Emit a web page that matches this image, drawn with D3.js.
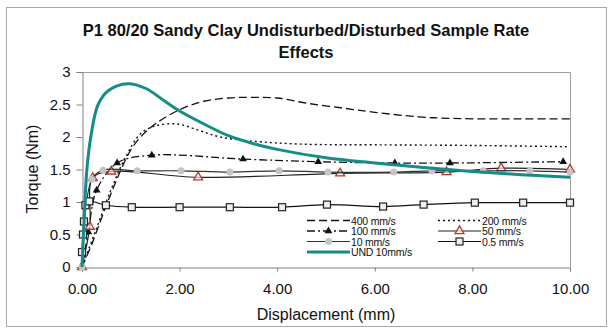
<!DOCTYPE html>
<html>
<head>
<meta charset="utf-8">
<script src="https://cdn.jsdelivr.net/npm/d3@7"></script>
<style>
  body { margin: 0; background: #fff; }
  text { font-family: Arial, "Liberation Sans", sans-serif; fill: #111; }
</style>
</head>
<body>
<svg id="chart" width="614" height="334"></svg>
<script>
// Chart text
const titleLines = ["P1 80/20 Sandy Clay Undisturbed/Disturbed Sample Rate", "Effects"];
const xLabel = "Displacement (mm)";
const yLabel = "Torque (Nm)";
const xTicks = [0, 2, 4, 6, 8, 10];
const yTicks = [0, 0.5, 1, 1.5, 2, 2.5, 3];

// Series: [displacement (mm), torque (Nm)]
const rate400 = [[0,0],[0.2,0.35],[0.5,0.95],[0.8,1.5],[1.0,1.8],[1.2,2.0],[1.5,2.2],[2,2.42],[2.5,2.55],[3,2.6],[3.5,2.61],[4,2.6],[4.6,2.52],[5.3,2.45],[6,2.38],[6.9,2.31],[7.4,2.29],[8,2.28],[9,2.28],[10,2.28]];
const rate200 = [[0,0],[0.3,0.6],[0.6,1.2],[0.9,1.7],[1.2,2.05],[1.5,2.17],[1.95,2.2],[2.4,2.1],[2.83,2.0],[3.44,1.94],[4.5,1.89],[6,1.88],[8,1.87],[10,1.85]];
const rate100 = [[0,0],[0.13,0.54],[0.3,1.18],[0.72,1.6],[1.43,1.72],[3.3,1.66],[4.84,1.62],[6.41,1.6],[7.54,1.6],[9.86,1.62]];
const rate50 = [[0,0],[0.16,0.62],[0.22,1.37],[0.6,1.47],[2.38,1.38],[5.29,1.44],[7.47,1.46],[8.59,1.52],[10,1.5]];
const rate10 = [[0,0],[0.2,1.35],[0.43,1.49],[1.13,1.48],[2.03,1.48],[3.03,1.46],[4.04,1.48],[5.04,1.46],[6.39,1.46],[7.17,1.48],[8.22,1.48],[9.18,1.48],[10,1.46]];
const rate05 = [[0,0.23],[0.02,0.5],[0.04,0.7],[0.07,0.95],[0.15,1.01],[0.49,0.95],[1.02,0.92],[2.0,0.92],[3.03,0.92],[4.1,0.92],[5.02,0.96],[6.17,0.93],[7.0,0.96],[8.05,0.99],[9.04,0.99],[10,0.99]];
const und10 = [[0,0],[0.03,0.5],[0.06,1.0],[0.1,1.5],[0.18,2.0],[0.33,2.5],[0.55,2.72],[0.94,2.82],[1.3,2.75],[1.7,2.55],[2,2.4],[2.5,2.2],[3,2.02],[3.5,1.9],[4,1.81],[5,1.68],[6,1.6],[7,1.53],[8,1.47],[9,1.42],[10,1.38]];

const seriesNames = ["400 mm/s", "200 mm/s", "100 mm/s", "50 mm/s", "10 mm/s", "0.5 mm/s", "UND 10mm/s"];
const seriesData = [rate400, rate200, rate100, rate50, rate10, rate05, und10];

// Drawing styles per series
const styles = [
  { stroke: "#111", width: 1.3, dash: "8,4", marker: null },
  { stroke: "#111", width: 1.4, dash: "2,3", marker: null },
  { stroke: "#111", width: 1.3, dash: "8,3,2,3", marker: "triFill" },
  { stroke: "#222", width: 1.2, dash: null, marker: "triRed" },
  { stroke: "#333", width: 1.2, dash: null, marker: "circle" },
  { stroke: "#111", width: 1.2, dash: null, marker: "square" },
  { stroke: "#168c88", width: 3, dash: null, marker: null }
];

const svg = d3.select("#chart");
const W = 614, H = 334;
const plot = { left: 82, right: 570, top: 72, bottom: 267 };

svg.append("rect").attr("width", W).attr("height", H).attr("fill", "#fff");
svg.append("rect")
  .attr("x", 6.5).attr("y", 7.5).attr("width", 600).attr("height", 319)
  .attr("fill", "none").attr("stroke", "#a8a8a8").attr("stroke-width", 1);

const x = d3.scaleLinear().domain([0, 10]).range([plot.left, plot.right]);
const y = d3.scaleLinear().domain([0, 3]).range([plot.bottom, plot.top]);

// Title
svg.append("g").selectAll("text").data(titleLines).join("text")
  .attr("x", 306).attr("y", (d, i) => 36 + i * 22)
  .attr("text-anchor", "middle")
  .attr("font-size", 16.5).attr("font-weight", "bold")
  .text(d => d);

// Plot frame (top and right)
svg.append("path")
  .attr("d", `M${plot.left},${plot.top + 0.5}H${plot.right + 0.5}V${plot.bottom}`)
  .attr("fill", "none").attr("stroke", "#a0a0a0");

// Axes
const yAxis = svg.append("g").attr("transform", `translate(${plot.left + 0.5},0)`)
  .call(d3.axisLeft(y).tickValues(yTicks).tickSize(6).tickPadding(6).tickFormat(d => String(d)));
const xAxis = svg.append("g").attr("transform", `translate(0,${plot.bottom + 0.5})`)
  .call(d3.axisBottom(x).tickValues(xTicks).tickSize(4).tickPadding(12).tickFormat(d3.format(".2f")));
[yAxis, xAxis].forEach(g => {
  g.select(".domain").attr("stroke", "#808080");
  g.selectAll(".tick line").attr("stroke", "#808080");
  g.selectAll(".tick text").attr("font-size", 15).attr("fill", "#111")
    .attr("font-family", "Arial, 'Liberation Sans', sans-serif");
});

// Axis titles
svg.append("text").attr("x", 326).attr("y", 320).attr("text-anchor", "middle")
  .attr("font-size", 16).text(xLabel);
svg.append("text").attr("transform", "translate(38,169) rotate(-90)")
  .attr("text-anchor", "middle").attr("font-size", 16).text(yLabel);

// Markers
function drawMarker(g, type, cx, cy) {
  if (type === "triFill") {
    g.append("path").attr("d", d3.symbol(d3.symbolTriangle, 26)())
      .attr("transform", `translate(${cx},${cy})`).attr("fill", "#111");
  } else if (type === "triRed") {
    g.append("path").attr("d", d3.symbol(d3.symbolTriangle, 34)())
      .attr("transform", `translate(${cx},${cy})`)
      .attr("fill", "#fff").attr("fill-opacity", 0.6).attr("stroke", "#b23a2a").attr("stroke-width", 1.3);
  } else if (type === "circle") {
    g.append("circle").attr("cx", cx).attr("cy", cy).attr("r", 3.5)
      .attr("fill", "#c4c4c4");
  } else if (type === "square") {
    g.append("rect").attr("x", cx - 3.5).attr("y", cy - 3.5).attr("width", 7).attr("height", 7)
      .attr("fill", "#eee").attr("stroke", "#222").attr("stroke-width", 1.2);
  }
}

// Series lines and markers
const line = d3.line().x(d => x(d[0])).y(d => y(d[1])).curve(d3.curveCatmullRom.alpha(0.5));
const seriesG = svg.append("g");
seriesData.forEach((data, i) => {
  const s = styles[i];
  const g = seriesG.append("g");
  g.append("path").attr("d", line(data))
    .attr("fill", "none").attr("stroke", s.stroke).attr("stroke-width", s.width)
    .attr("stroke-dasharray", s.dash).attr("stroke-linejoin", "round");
  if (s.marker) data.forEach(d => drawMarker(g, s.marker, x(d[0]), y(d[1])));
});

// Legend
const legendPos = [
  [307, 220.5], [438, 220.5],
  [307, 231], [438, 231],
  [307, 241.5], [438, 241.5],
  [307, 252]
];
const legend = svg.append("g");
seriesNames.forEach((name, i) => {
  const s = styles[i];
  const [lx, ly] = legendPos[i];
  legend.append("line").attr("x1", lx).attr("x2", lx + 43).attr("y1", ly).attr("y2", ly)
    .attr("stroke", s.stroke).attr("stroke-width", s.width).attr("stroke-dasharray", s.dash);
  if (s.marker) drawMarker(legend, s.marker, lx + 21.5, ly);
  legend.append("text").attr("x", lx + 44).attr("y", ly + 4)
    .attr("font-size", 10.5).attr("letter-spacing", -0.2).text(name);
});
</script>
</body>
</html>
